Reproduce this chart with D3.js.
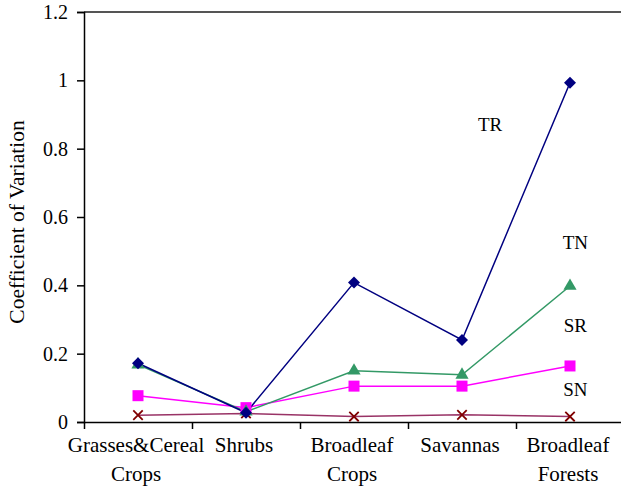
<!DOCTYPE html>
<html>
<head>
<meta charset="utf-8">
<script src="https://cdn.jsdelivr.net/npm/d3@7"></script>
<style>
  body { margin: 0; background: #fff; }
  svg { display: block; }
</style>
</head>
<body>
<svg width="621" height="487"></svg>
<script>
// categories (two text lines each)
const categories = [
  ["Grasses&Cereal", "Crops"],
  ["Shrubs"],
  ["Broadleaf", "Crops"],
  ["Savannas"],
  ["Broadleaf", "Forests"]
];
const yTicks = [0, 0.2, 0.4, 0.6, 0.8, 1, 1.2];

// series values
const trValues = [0.172, 0.027, 0.408, 0.240, 0.993];
const tnValues = [0.168, 0.030, 0.150, 0.138, 0.398];
const srValues = [0.077, 0.042, 0.105, 0.105, 0.164];
const snValues = [0.020, 0.025, 0.016, 0.021, 0.016];

// series name labels: [text, category position, value]
const seriesLabels = [
  ["TR", 3.76, 0.852],
  ["TN", 4.55, 0.507],
  ["SR", 4.55, 0.264],
  ["SN", 4.55, 0.077]
];

const serif = '"Liberation Serif"';
const svgW = 621, svgH = 487;
const padLeft = 84, padRight = 624, padTop = 12, padBottom = 422;

const svg = d3.select("svg");

// x: category boundaries 0..5, centers at i + 0.5
const x = d3.scaleLinear().domain([0, categories.length]).range([padLeft, padRight]);
const y = d3.scaleLinear().domain([0, 1.2]).range([padBottom, padTop]);

// top border
svg.append("line")
  .attr("x1", padLeft).attr("x2", svgW)
  .attr("y1", y(1.2)).attr("y2", y(1.2))
  .attr("stroke", "#555").attr("stroke-width", 2);

// y axis
const yAxis = d3.axisLeft(y).tickValues(yTicks).tickFormat(d3.format("~g"))
  .tickSize(7).tickPadding(9);
const gy = svg.append("g").attr("transform", `translate(${padLeft},0)`).call(yAxis);
gy.select(".domain").attr("stroke", "#000").attr("stroke-width", 1.5);
gy.selectAll(".tick line").attr("stroke", "#000").attr("stroke-width", 1.5);
gy.selectAll(".tick text")
  .style("font-family", serif).style("font-size", "20px").attr("fill", "#000");

// x axis: ticks at category boundaries, no labels
const xAxis = d3.axisBottom(x).tickValues(d3.range(0, categories.length + 1))
  .tickSize(7).tickFormat("").tickSizeOuter(0);
const gx = svg.append("g").attr("transform", `translate(0,${padBottom})`).call(xAxis);
gx.select(".domain").attr("stroke", "#000").attr("stroke-width", 1.5);
gx.selectAll(".tick line").attr("stroke", "#000").attr("stroke-width", 1.5);

// category labels
const catText = svg.append("g").selectAll("text")
  .data(categories)
  .join("text")
  .attr("x", (d, i) => x(i + 0.5) - 2)
  .attr("y", padBottom + 30)
  .attr("text-anchor", "middle")
  .style("font-family", serif)
  .style("font-size", "21px")
  .attr("fill", "#000");
catText.selectAll("tspan")
  .data(d => d)
  .join("tspan")
  .attr("x", function () { return d3.select(this.parentNode).attr("x"); })
  .attr("dy", (d, i) => i === 0 ? 0 : 29)
  .text(d => d);

// y title
svg.append("text")
  .attr("transform", `translate(24,${(padTop + padBottom) / 2 + 5}) rotate(-90)`)
  .attr("text-anchor", "middle")
  .style("font-family", serif)
  .style("font-size", "21.5px")
  .attr("fill", "#000")
  .text("Coefficient of Variation");

const line = d3.line().x((d, i) => x(i + 0.5)).y(d => y(d));

function drawSeries(values, lineColor, strokeW) {
  svg.append("path")
    .datum(values)
    .attr("d", line)
    .attr("fill", "none")
    .attr("stroke", lineColor)
    .attr("stroke-width", strokeW);
}

drawSeries(snValues, "#993366", 1.5);
drawSeries(srValues, "#ff00ff", 1.5);
drawSeries(tnValues, "#339966", 1.5);
drawSeries(trValues, "#000080", 1.5);

// markers
const sym = (type, size) => d3.symbol().type(type).size(size)();

svg.append("g").selectAll("path")
  .data(snValues).join("path")
  .attr("transform", (d, i) => `translate(${x(i + 0.5)},${y(d)})`)
  .attr("d", sym(d3.symbolX, 60))
  .attr("stroke", "#800000").attr("stroke-width", 1.8).attr("fill", "none");

svg.append("g").selectAll("rect")
  .data(srValues).join("rect")
  .attr("x", (d, i) => x(i + 0.5) - 5.5)
  .attr("y", d => y(d) - 5.5)
  .attr("width", 11).attr("height", 11)
  .attr("fill", "#ff00ff");

svg.append("g").selectAll("path")
  .data(tnValues).join("path")
  .attr("transform", (d, i) => `translate(${x(i + 0.5)},${y(d)})`)
  .attr("d", sym(d3.symbolTriangle, 75))
  .attr("fill", "#339966");

svg.append("g").selectAll("path")
  .data(trValues).join("path")
  .attr("transform", (d, i) => `translate(${x(i + 0.5)},${y(d)}) rotate(45)`)
  .attr("d", sym(d3.symbolSquare, 72))
  .attr("fill", "#000080");

// series labels
svg.append("g").selectAll("text")
  .data(seriesLabels).join("text")
  .attr("x", d => x(d[1]))
  .attr("y", d => y(d[2]))
  .attr("text-anchor", "middle")
  .style("font-family", serif)
  .style("font-size", "19px")
  .attr("fill", "#000")
  .text(d => d[0]);
</script>
</body>
</html>
